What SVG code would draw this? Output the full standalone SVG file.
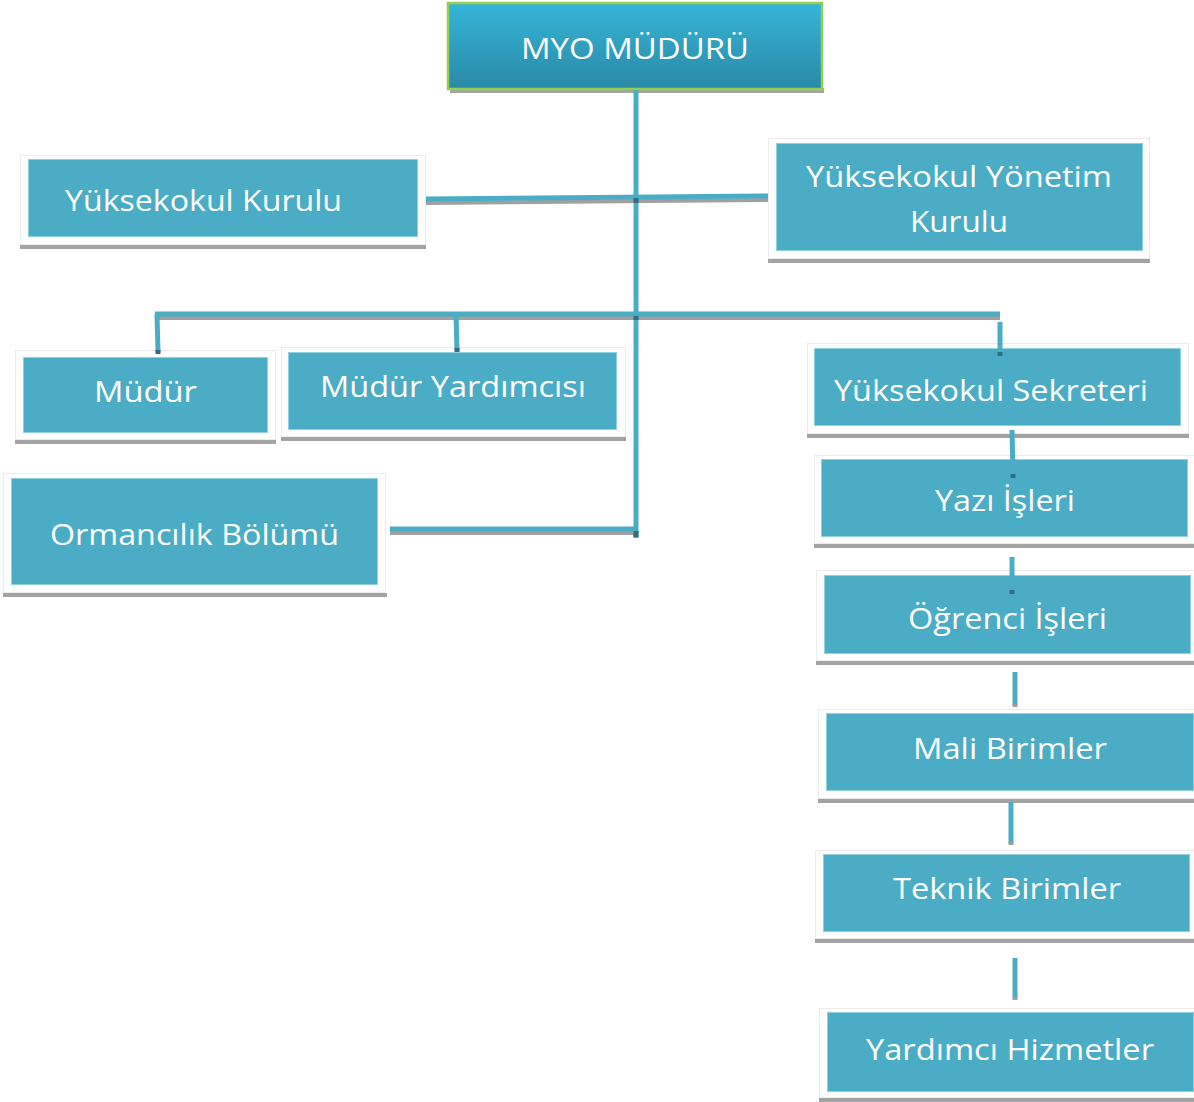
<svg xmlns="http://www.w3.org/2000/svg" width="1194" height="1102" viewBox="0 0 1194 1102">
<defs>
<linearGradient id="topg" x1="0" y1="0" x2="0" y2="1">
<stop offset="0" stop-color="#36B5D9"/>
<stop offset="1" stop-color="#2A89A4"/>
</linearGradient>
<style>
.frame{fill:#ffffff;stroke:#ececec;stroke-width:1}
.shadow{fill:#a3a3a3}
.box{fill:#4BACC6;stroke:#8fd0e2;stroke-width:1}
.t{fill:#ffffff;font-family:"Open Sans","DejaVu Sans",sans-serif;font-size:30px;text-anchor:middle}
.ln{stroke:#4BACC6;stroke-width:5;fill:none}
.sh{stroke:#a0a0a0;stroke-width:4;fill:none}
.dk{fill:#2f6f80}
</style>
</defs>
<rect width="1194" height="1102" fill="#ffffff"/>

<g id="myo-muduru">
<rect class="shadow" x="450" y="88" width="374" height="5"/>
<rect x="448" y="3" width="374" height="86" fill="url(#topg)" stroke="#92D050" stroke-width="2.5"/>
<text class="t" x="635" y="59" textLength="228" lengthAdjust="spacingAndGlyphs">MYO MÜDÜRÜ</text>
</g>

<g id="yuksekokul-kurulu">
<rect class="shadow" x="20" y="245" width="406" height="4"/>
<rect class="frame" x="20.5" y="155.5" width="405" height="89"/>
<rect class="box" x="28.5" y="159.5" width="389" height="77"/>
<text class="t" x="203.5" y="211" textLength="277" lengthAdjust="spacingAndGlyphs">Yüksekokul Kurulu</text>
</g>

<g id="yuksekokul-yonetim-kurulu">
<rect class="shadow" x="768" y="259" width="382" height="4"/>
<rect class="frame" x="768.5" y="138.5" width="381" height="120"/>
<rect class="box" x="776.5" y="143.5" width="366" height="107"/>
<text class="t" x="959" y="187" textLength="306" lengthAdjust="spacingAndGlyphs">Yüksekokul Yönetim</text>
<text class="t" x="959" y="232" textLength="98" lengthAdjust="spacingAndGlyphs">Kurulu</text>
</g>

<g id="mudur">
<rect class="shadow" x="15" y="440" width="261" height="4"/>
<rect class="frame" x="15.5" y="350.5" width="260" height="89"/>
<rect class="box" x="23.5" y="357.5" width="244" height="75"/>
<text class="t" x="145.5" y="402" textLength="103" lengthAdjust="spacingAndGlyphs">Müdür</text>
</g>

<g id="mudur-yardimcisi">
<rect class="shadow" x="281" y="437" width="345" height="4"/>
<rect class="frame" x="281.5" y="347.5" width="344" height="89"/>
<rect class="box" x="288.5" y="352.5" width="328" height="77"/>
<text class="t" x="453" y="397" textLength="266" lengthAdjust="spacingAndGlyphs">Müdür Yardımcısı</text>
</g>

<g id="yuksekokul-sekreteri">
<rect class="shadow" x="807" y="434" width="382" height="4"/>
<rect class="frame" x="807.5" y="343.5" width="381" height="90"/>
<rect class="box" x="814.5" y="348.5" width="366" height="77"/>
<text class="t" x="991" y="401" textLength="314" lengthAdjust="spacingAndGlyphs">Yüksekokul Sekreteri</text>
</g>

<g id="ormancilik-bolumu">
<rect class="shadow" x="3" y="593" width="384" height="4"/>
<rect class="frame" x="3.5" y="473.5" width="382" height="119"/>
<rect class="box" x="11.5" y="478.5" width="366" height="106"/>
<text class="t" x="194.5" y="545" textLength="289" lengthAdjust="spacingAndGlyphs">Ormancılık Bölümü</text>
</g>

<g id="yazi-isleri">
<rect class="shadow" x="814" y="544" width="380" height="4"/>
<rect class="frame" x="814.5" y="455.5" width="381" height="88"/>
<rect class="box" x="821.5" y="459.5" width="366" height="77"/>
<text class="t" x="1005" y="511" textLength="140" lengthAdjust="spacingAndGlyphs">Yazı İşleri</text>
</g>

<g id="ogrenci-isleri">
<rect class="shadow" x="816" y="661" width="378" height="4"/>
<rect class="frame" x="816.5" y="570.5" width="379" height="90"/>
<rect class="box" x="824.5" y="575.5" width="366" height="78"/>
<text class="t" x="1007.5" y="629" textLength="199" lengthAdjust="spacingAndGlyphs">Öğrenci İşleri</text>
</g>

<g id="mali-birimler">
<rect class="shadow" x="818" y="799" width="376" height="4"/>
<rect class="frame" x="818.5" y="709.5" width="377" height="89"/>
<rect class="box" x="826.5" y="713.5" width="367" height="77"/>
<text class="t" x="1010" y="759" textLength="194" lengthAdjust="spacingAndGlyphs">Mali Birimler</text>
</g>

<g id="teknik-birimler">
<rect class="shadow" x="815" y="939" width="379" height="4"/>
<rect class="frame" x="815.5" y="850.5" width="380" height="88"/>
<rect class="box" x="823.5" y="854.5" width="366" height="77"/>
<text class="t" x="1007" y="899" textLength="228" lengthAdjust="spacingAndGlyphs">Teknik Birimler</text>
</g>

<g id="yardimci-hizmetler">
<rect class="shadow" x="819" y="1098" width="375" height="4"/>
<rect class="frame" x="819.5" y="1008.5" width="376" height="89"/>
<rect class="box" x="827.5" y="1012.5" width="366" height="79"/>
<text class="t" x="1010" y="1060" textLength="288" lengthAdjust="spacingAndGlyphs">Yardımcı Hizmetler</text>
</g>

<g id="connectors">
<path class="sh" d="M426 203 L768 200"/>
<path class="sh" d="M157 318 L1000 318"/>
<path class="sh" d="M390 533 L636 533"/>
<path class="ln" d="M636 90 L636 538"/>
<path class="ln" d="M426 199 L768 196"/>
<path class="ln" d="M155 314 L1000 314"/>
<path class="ln" d="M157 314 L158 352"/>
<path class="ln" d="M456 314 L457 350"/>
<path class="ln" d="M1000 322 L1000 354"/>
<path class="ln" d="M390 529 L636 529"/>
<path class="ln" d="M1012 430 L1013 475"/>
<path class="ln" d="M1012 557 L1012 591"/>
<path class="ln" d="M1015 672 L1015 705"/>
<path class="ln" d="M1011 802 L1011 843"/>
<path class="ln" d="M1015 958 L1015 998"/>
<rect class="dk" x="633.5" y="198" width="5" height="5"/>
<rect class="dk" x="633.5" y="316" width="5" height="4"/>
<rect class="dk" x="633.5" y="531" width="5" height="6"/>
<rect class="dk" x="155.5" y="350" width="5" height="4"/>
<rect class="dk" x="454.5" y="348" width="5" height="4"/>
<rect class="dk" x="997.5" y="352" width="5" height="4"/>
<rect class="dk" x="1010.5" y="474" width="5" height="4"/>
<rect class="dk" x="1009.5" y="590" width="5" height="4"/>
<rect fill="#a0a0a0" x="1012.5" y="704" width="5" height="3"/>
<rect fill="#a0a0a0" x="1008.5" y="842" width="5" height="3"/>
<rect fill="#a0a0a0" x="1012.5" y="997" width="5" height="3"/>
</g>
</svg>
